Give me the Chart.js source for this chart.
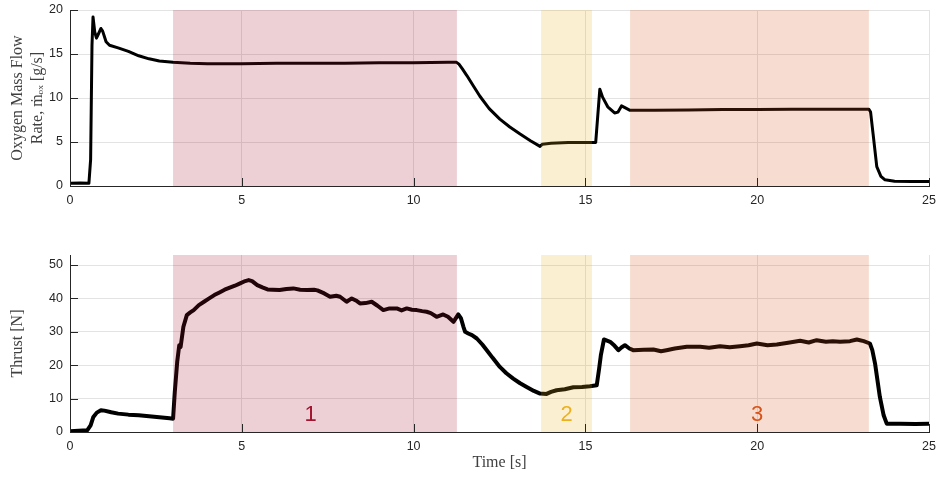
<!DOCTYPE html>
<html>
<head>
<meta charset="utf-8">
<script src="https://cdn.jsdelivr.net/npm/chart.js@4.4.1/dist/chart.umd.min.js"></script>
<style>
  body { margin: 0; background: #fff; }
  #wrap { position: relative; width: 939px; height: 477px; }
  canvas { position: absolute; left: 0; }
</style>
</head>
<body>
<div id="wrap">
  <canvas id="flowChart" width="939" height="240" style="top:0"></canvas>
  <canvas id="thrustChart" width="939" height="237" style="top:240px"></canvas>
</div>
<script>
// oxygen mass flow [g/s] vs time [s]
const flowTime = [0, 0.3, 0.55, 0.6, 0.64, 0.67, 0.72, 0.77, 0.83, 0.9, 0.95, 1.05, 1.15, 1.4, 1.7, 2.0, 2.3, 2.6, 3.0,
  3.5, 4.0, 5.0, 6.0, 7.0, 8.0, 9.0, 10.0, 11.0, 11.25, 11.32, 11.42, 11.55, 11.75, 11.93, 12.2, 12.51, 12.8, 13.1, 13.4, 13.68,
  13.75, 14.0, 14.5, 15.0, 15.3, 15.36, 15.42, 15.5, 15.65, 15.85, 15.95, 16.05, 16.15, 16.3,
  17.0, 18.0, 19.0, 20.0, 21.0, 22.0, 23.25, 23.3, 23.37, 23.48, 23.6, 23.72, 24.0, 24.5, 25.0];
const flowValues = [0.3, 0.35, 0.3, 3, 16, 19.2, 17.5, 16.8, 17.3, 17.9, 17.6, 16.4, 16.0, 15.7, 15.3, 14.8, 14.45, 14.2, 14.05,
  13.95, 13.9, 13.9, 13.95, 13.95, 13.95, 14.0, 14.0, 14.05, 14.05, 13.85, 13.3, 12.55, 11.3, 10.2, 8.8, 7.6, 6.7, 5.9, 5.15, 4.5,
  4.75, 4.85, 4.95, 4.95, 4.95, 8, 11.0, 10.1, 9.0, 8.3, 8.4, 9.1, 8.9, 8.6,
  8.6, 8.65, 8.7, 8.7, 8.72, 8.72, 8.72, 8.4, 6.0, 2.2, 1.1, 0.7, 0.55, 0.5, 0.5];

// thrust [N] vs time [s]
const thrustTime = [0, 0.5, 0.6, 0.68, 0.78, 0.9, 1.0, 1.2, 1.4, 1.7, 2.0, 2.3, 2.6, 2.9, 3.0, 3.05, 3.12, 3.18, 3.22, 3.3,
  3.4, 3.5, 3.6, 3.75, 3.9, 4.05, 4.2, 4.35, 4.5, 4.65, 4.8, 4.95, 5.1, 5.2, 5.3, 5.45, 5.6, 5.75, 5.9, 6.1, 6.3, 6.5,
  6.7, 6.9, 7.1, 7.2, 7.4, 7.57, 7.75, 7.86, 8.05, 8.2, 8.35, 8.44, 8.6, 8.78, 8.95, 9.12, 9.3, 9.51, 9.65, 9.8, 9.95,
  10.09, 10.25, 10.38, 10.5, 10.67, 10.86, 11.0, 11.16, 11.3, 11.38, 11.45, 11.5, 11.59, 11.7, 11.84, 12.0, 12.13, 12.3,
  12.51, 12.7, 12.9, 13.1, 13.29, 13.5, 13.68, 13.87, 14.0, 14.16, 14.4, 14.65, 14.9, 15.13, 15.33, 15.4, 15.45, 15.54,
  15.72, 15.85, 15.96, 16.05, 16.15, 16.28, 16.39, 16.7, 16.98, 17.2, 17.36, 17.6, 17.95, 18.34, 18.6, 18.92, 19.2, 19.5,
  19.75, 19.99, 20.3, 20.57, 20.9, 21.25, 21.5, 21.73, 22.0, 22.2, 22.41, 22.7, 22.9, 23.1, 23.28, 23.35, 23.43, 23.57,
  23.68, 23.77, 24.16, 24.6, 25.0];
const thrustValues = [0.2, 0.5, 2, 4.5, 5.8, 6.5, 6.4, 5.9, 5.5, 5.2, 5.0, 4.7, 4.4, 4.1, 4.0, 12, 21, 26, 25.5, 31.5,
  35, 35.8, 36.5, 38, 39, 40, 41, 41.8, 42.6, 43.2, 43.8, 44.5, 45.2, 45.5, 45.2, 44, 43.3, 42.7, 42.6, 42.5, 42.8, 43,
  42.6, 42.5, 42.6, 42.4, 41.5, 40.5, 40.8, 40.5, 39, 40, 39.2, 38.5, 38.6, 39, 37.8, 36.5, 37, 37, 36.4, 37, 36.6,
  36.5, 36.2, 36, 35.6, 34.5, 35.2, 34.5, 33, 35.2, 34, 31.5, 30, 29.5, 29, 28, 26.2, 24.5, 22.2,
  19.5, 17.6, 16, 14.6, 13.5, 12.3, 11.5, 11.4, 12, 12.5, 12.8, 13.4, 13.5, 13.7, 14, 19, 23, 27.7,
  27, 25.8, 24.5, 25.3, 26, 25, 24.5, 24.6, 24.7, 24.2, 24.5, 25, 25.5, 25.5, 25.2, 25.7, 25.4, 25.7,
  26, 26.5, 26, 26.2, 26.7, 27.3, 26.8, 27.5, 27, 27.2, 27, 27.2, 27.7, 27.2, 26.5, 24.5, 20.5, 10.5,
  5, 2.5, 2.5, 2.4, 2.5];

// burn phases (start / end time [s]) and their labels
const phaseStart = [3.0, 13.71, 16.3];
const phaseEnd = [11.26, 15.19, 23.25];
const phaseColors = ['rgba(162,20,47,0.2)', 'rgba(237,177,32,0.2)', 'rgba(217,83,25,0.2)'];
const phaseNames = ['1', '2', '3'];
const phaseLabelColors = ['rgb(162,20,47)', 'rgb(237,177,32)', 'rgb(217,83,25)'];
const phaseLabelX = [7.0, 14.45, 20.0];
const phaseLabelY = 5;

const tickFont = { family: 'Liberation Sans, Arial, sans-serif', size: 12.5 };
const serifFont = { family: 'Liberation Serif, Times New Roman, serif', size: 16, lineHeight: '20px' };
const axisColor = '#262626';
const gridColor = '#e3e3e3';

// shaded phase boxes, inward tick marks and the phase numbers
const phasePlugin = {
  id: 'phases',
  afterDatasetsDraw(chart, args, opts) {
    const { ctx, chartArea: a, scales: { x, y } } = chart;
    ctx.save();
    phaseStart.forEach((s, i) => {
      const x0 = x.getPixelForValue(s);
      const x1 = x.getPixelForValue(phaseEnd[i]);
      ctx.fillStyle = phaseColors[i];
      ctx.fillRect(x0, a.top, x1 - x0, a.bottom - a.top);
    });
    ctx.strokeStyle = axisColor;
    ctx.lineWidth = 1;
    x.ticks.forEach(t => {
      const px = Math.round(x.getPixelForValue(t.value)) + 0.5;
      ctx.beginPath(); ctx.moveTo(px, a.bottom); ctx.lineTo(px, a.bottom - 8); ctx.stroke();
    });
    y.ticks.forEach(t => {
      const py = Math.round(y.getPixelForValue(t.value)) + 0.5;
      ctx.beginPath(); ctx.moveTo(a.left, py); ctx.lineTo(a.left + 8, py); ctx.stroke();
    });
    if (opts.labels) {
      ctx.font = '22px Liberation Sans, Arial, sans-serif';
      ctx.textAlign = 'center';
      ctx.textBaseline = 'middle';
      phaseNames.forEach((n, i) => {
        ctx.fillStyle = phaseLabelColors[i];
        ctx.fillText(n, x.getPixelForValue(phaseLabelX[i]), y.getPixelForValue(phaseLabelY));
      });
    }
    ctx.restore();
  }
};

function makeChart(id, times, values, yMax, yStep, yTitle, xTitle, padTop, xHeight, labels) {
  return new Chart(document.getElementById(id), {
    type: 'line',
    data: {
      datasets: [{
        data: times.map((t, i) => ({ x: t, y: values[i] })),
        borderColor: '#000',
        borderWidth: labels ? 4 : 3,
        pointRadius: 0,
        tension: 0,
        borderJoinStyle: 'round',
        borderCapStyle: 'round'
      }]
    },
    options: {
      responsive: false,
      animation: false,
      layout: { padding: { top: padTop, right: 10, left: 0, bottom: 0 } },
      plugins: { legend: { display: false }, tooltip: { enabled: false }, phases: { labels } },
      scales: {
        x: {
          type: 'linear', min: 0, max: 25,
          ticks: { stepSize: 5, color: axisColor, font: tickFont, padding: 7, maxRotation: 0 },
          grid: { color: gridColor, drawTicks: false },
          border: { color: axisColor },
          title: { display: !!xTitle, text: xTitle, color: '#404040', font: serifFont, padding: { top: 0, bottom: 4 } },
          afterFit: s => { s.height = xHeight; s.paddingLeft = 0; s.paddingRight = 0; }
        },
        y: {
          min: 0, max: yMax,
          ticks: { stepSize: yStep, color: axisColor, font: tickFont, padding: 7, includeBounds: false },
          grid: { color: gridColor, drawTicks: false },
          border: { color: axisColor },
          title: { display: true, text: yTitle, color: '#404040', font: serifFont, padding: { top: 8, bottom: 0 } },
          afterFit: s => { s.width = 70; s.paddingTop = 0; s.paddingBottom = 0; }
        }
      }
    },
    plugins: [phasePlugin]
  });
}

makeChart('flowChart', flowTime, flowValues, 20, 5, ['Oxygen Mass Flow', 'Rate, ṁₒₓ [g/s]'], '', 10, 54, false);
makeChart('thrustChart', thrustTime, thrustValues, 53, 10, 'Thrust [N]', 'Time [s]', 15, 45, true);
</script>
</body>
</html>
